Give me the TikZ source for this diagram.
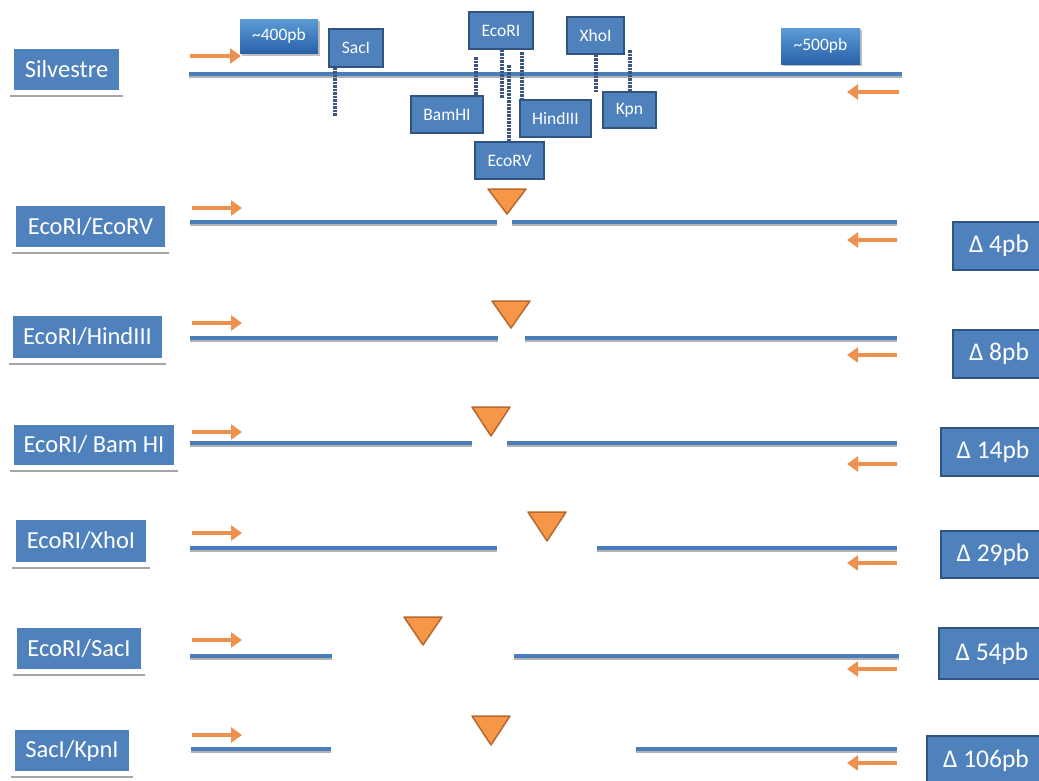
\documentclass[tikz,border=0pt]{standalone}
\usepackage{fontspec}
\setmainfont{Carlito}
\usetikzlibrary{arrows.meta}
\definecolor{boxblue}{HTML}{4F81BD}
\definecolor{boxedge}{HTML}{2F5480}
\definecolor{dnablue}{HTML}{4A7EBB}
\definecolor{orangef}{HTML}{F79646}
\definecolor{orangee}{HTML}{B5682F}
\definecolor{arrowor}{HTML}{EE914E}
\definecolor{dashc}{HTML}{3A5680}
\definecolor{gradtop}{HTML}{5B9BD5}
\definecolor{gradbot}{HTML}{2A62AA}
\tikzset{
  lbl/.style={fill=boxblue, text=white, inner sep=0pt, font=\fontsize{24.5}{26}\selectfont, anchor=center},
  delta/.style={fill=boxblue, draw=boxedge, line width=1.5pt, text=white, inner sep=0pt, font=\fontsize{25.5}{27}\selectfont, anchor=center},
  site/.style={fill=boxblue, draw=boxedge, line width=1.8pt, text=white, inner sep=0pt, font=\fontsize{17.5}{19}\selectfont, anchor=center},
  sizebox/.style={top color=gradtop, bottom color=gradbot, text=white, inner sep=0pt, font=\fontsize{17.5}{19}\selectfont, anchor=center},
  shadowline/.style={draw=gray!70, line width=2pt},
  dna/.style={draw=dnablue, line width=4.5pt},
  dnashadow/.style={draw=gray!60, line width=2pt},
  cutsite/.style={draw=dashc, line width=3.2pt, dash pattern=on 2.5pt off 1pt},
  primer/.style={draw=arrowor, line width=4.5pt, -{Triangle[width=15pt,length=11pt]}},
  enzyme/.style={fill=orangef, draw=orangee, line width=1.5pt, line join=round},
}
\newcommand{\dnaseg}[3]{% y, x1, x2
  \draw[dnashadow] (#2,#1+2.8) -- (#3,#1+2.8);
  \draw[dna] (#2,#1) -- (#3,#1);
}
\newcommand{\lblbox}[6]{% name, x1, y1, x2, y2, text
  \draw[shadowline] (#2-4,#5+6) -- (#4+4,#5+6);
  \node[lbl, minimum width=#4-#2, minimum height=#5-#3] (#1) at ({(#2+#4)/2},{(#3+#5)/2}) {#6};
}
\newcommand{\enz}[4]{% name, cx, top, bottom
  \draw[enzyme] (#2-19,#3) -- (#2+19,#3) -- (#2,#4) -- cycle;
  \coordinate (#1) at (#2,#4);
}
\begin{document}
\begin{tikzpicture}[x=1pt,y=-1pt]
\useasboundingbox (0,0) rectangle (1039,780);
\clip (0,0) rectangle (1039,780);

% ---------- Silvestre ----------
\lblbox{silv}{14}{49}{119}{90}{Silvestre}
\dnaseg{74}{189}{902}
\coordinate (f0s) at (190,56); \coordinate (f0e) at (241,56);
\draw[primer] (f0s) -- (f0e);
\coordinate (r0s) at (899,92); \coordinate (r0e) at (847,92);
\draw[primer] (r0s) -- (r0e);
\fill[gray!50] (242,21) rectangle (320,56);
\node[sizebox, minimum width=78, minimum height=34] (s400) at (279,36) {\textasciitilde400pb};
\fill[gray!50] (783,30) rectangle (862,66);
\node[sizebox, minimum width=79, minimum height=36] (s500) at (820.5,46) {\textasciitilde500pb};

% restriction sites
\node[site, minimum width=54, minimum height=38] (sac) at (356,48) {SacI};
\node[site, minimum width=64, minimum height=37] (eco) at (501,30.5) {EcoRI};
\node[site, minimum width=57, minimum height=37] (xho) at (595.5,35.5) {XhoI};
\node[site, minimum width=72, minimum height=37] (bam) at (447,114.5) {BamHI};
\node[site, minimum width=71, minimum height=37] (hind) at (555.5,118.5) {HindIII};
\node[site, minimum width=53, minimum height=36] (kpn) at (629.5,110) {Kpn};
\node[site, minimum width=69, minimum height=37] (ecorv) at (509.5,160.5) {EcoRV};

\coordinate (sacE) at (335,116);
\draw[cutsite] (sac.south -| sacE) -- (sacE);
\coordinate (bamA) at (476,57);
\draw[cutsite] (bamA) -- (bam.north -| bamA);
\coordinate (ecoE) at (502,98);
\draw[cutsite] (eco.south -| ecoE) -- (ecoE);
\coordinate (rvA) at (509,65);
\draw[cutsite] (rvA) -- (ecorv.north -| rvA);
\coordinate (hA) at (522,52);
\draw[cutsite] (hA) -- (hind.north -| hA);
\coordinate (xE) at (596,92);
\draw[cutsite] (xho.south -| xE) -- (xE);
\coordinate (kA) at (630,50);
\draw[cutsite] (kA) -- (kpn.north -| kA);

% ---------- Row 1: EcoRI/EcoRV ----------
\lblbox{l1}{16}{206}{165}{247}{EcoRI/EcoRV}
\dnaseg{222}{190}{497}
\dnaseg{222}{512}{897}
\enz{t1}{507}{189}{214}
\draw[primer] (192,208) -- (242,208);
\draw[primer] (897,240) -- (847,240);
\node[delta, minimum width=92, minimum height=48] (d1) at (999,246) {Δ 4pb};

% ---------- Row 2: EcoRI/HindIII ----------
\lblbox{l2}{13}{316}{162}{358}{EcoRI/HindIII}
\dnaseg{338}{190}{498}
\dnaseg{338}{525}{897}
\enz{t2}{511}{301}{328}
\draw[primer] (192,323) -- (242,323);
\draw[primer] (897,355) -- (847,355);
\node[delta, minimum width=92, minimum height=48] (d2) at (999,354) {Δ 8pb};

% ---------- Row 3: EcoRI/ Bam HI ----------
\lblbox{l3}{14}{425}{174}{465}{EcoRI/ Bam HI}
\dnaseg{443}{190}{472}
\dnaseg{443}{507}{897}
\enz{t3}{491}{407}{436}
\draw[primer] (192,432) -- (242,432);
\draw[primer] (897,464) -- (847,464);
\node[delta, minimum width=104, minimum height=48] (d3) at (993,452) {Δ 14pb};

% ---------- Row 4: EcoRI/XhoI ----------
\lblbox{l4}{16}{520}{146}{562}{EcoRI/XhoI}
\dnaseg{548}{190}{497}
\dnaseg{548}{597}{897}
\enz{t4}{547}{512}{541}
\draw[primer] (192,533) -- (242,533);
\draw[primer] (897,563) -- (847,563);
\node[delta, minimum width=104, minimum height=47] (d4) at (993,554.5) {Δ 29pb};

% ---------- Row 5: EcoRI/SacI ----------
\lblbox{l5}{17}{628}{141}{669}{EcoRI/SacI}
\dnaseg{656}{190}{332}
\dnaseg{656}{514}{899}
\enz{t5}{423}{617}{645}
\draw[primer] (192,640) -- (242,640);
\draw[primer] (897,669) -- (847,669);
\node[delta, minimum width=106, minimum height=51] (d5) at (992,653.5) {Δ 54pb};

% ---------- Row 6: SacI/KpnI ----------
\lblbox{l6}{15}{730}{129}{771}{SacI/KpnI}
\dnaseg{749}{191}{331}
\dnaseg{749}{636}{897}
\enz{t6}{491}{716}{745}
\draw[primer] (192,735) -- (242,735);
\draw[primer] (897,763) -- (847,763);
\node[delta, minimum width=118, minimum height=50] (d6) at (986,761) {Δ 106pb};
\end{tikzpicture}
\end{document}
